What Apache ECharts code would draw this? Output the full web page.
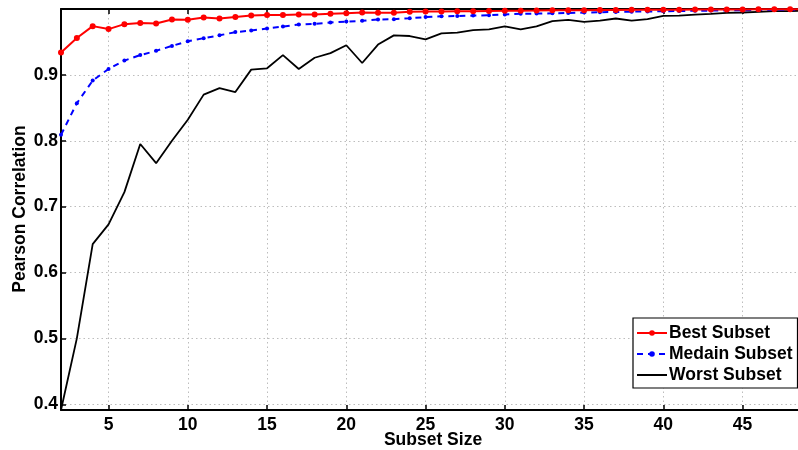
<!DOCTYPE html>
<html>
<head>
<meta charset="utf-8">
<script src="https://cdn.jsdelivr.net/npm/echarts@6/dist/echarts.min.js"></script>
<style>html,body{margin:0;padding:0;background:#fff}#c{width:798px;height:450px}</style>
</head>
<body>
<div id="c"></div>
<script>
var subsetSizes = [2,3,4,5,6,7,8,9,10,11,12,13,14,15,16,17,18,19,20,21,22,23,24,25,26,27,28,29,30,31,32,33,34,35,36,37,38,39,40,41,42,43,44,45,46,47,48,49];
var bestSubset = [0.934,0.956,0.974,0.9695,0.977,0.9786,0.978,0.984,0.9836,0.987,0.9856,0.988,0.990,0.991,0.991,0.9917,0.9917,0.9927,0.9937,0.9947,0.9942,0.9942,0.9957,0.9962,0.9962,0.9965,0.9967,0.997,0.9972,0.9975,0.9977,0.998,0.998,0.9982,0.9984,0.9985,0.9987,0.9988,0.999,0.999,0.9991,0.9992,0.9993,0.9994,0.9995,0.9996,0.9997,0.9998];
var medianSubset = [0.809,0.857,0.8913,0.909,0.9217,0.930,0.9365,0.944,0.951,0.9557,0.960,0.9649,0.9673,0.9704,0.9734,0.9764,0.9775,0.9795,0.981,0.982,0.984,0.9846,0.986,0.9877,0.989,0.9893,0.990,0.9905,0.9917,0.9927,0.993,0.9935,0.994,0.9945,0.995,0.9955,0.996,0.9963,0.9966,0.997,0.9973,0.9976,0.998,0.9982,0.9985,0.9988,0.999,0.999];
var worstSubset = [0.3913,0.50,0.643,0.673,0.722,0.795,0.766,0.800,0.832,0.870,0.880,0.874,0.908,0.910,0.930,0.909,0.926,0.933,0.945,0.918,0.946,0.960,0.959,0.954,0.963,0.964,0.968,0.969,0.9735,0.969,0.9735,0.9815,0.9836,0.9805,0.9825,0.9856,0.9825,0.9847,0.9897,0.990,0.9915,0.9927,0.994,0.9947,0.9957,0.9967,0.997,0.9975];
var xTicks = [5,10,15,20,25,30,35,40,45];
var yTicks = [0.4,0.5,0.6,0.7,0.8,0.9];
var seriesNames = ['Best Subset','Medain Subset','Worst Subset'];
var xTitle = 'Subset Size';
var yTitle = 'Pearson Correlation';

function pairs(vals){ return subsetSizes.map(function(x,i){ return [x, vals[i]]; }); }

var FONT = '"Liberation Sans", Arial, sans-serif';
var chart = echarts.init(document.getElementById('c'), null, {renderer:'canvas'});
chart.setOption({
  animation: false,
  backgroundColor: '#fff',
  grid: {left: 61, top: 9, right: -8, bottom: 40, containLabel: false, outerBoundsMode: 'none'},
  graphic: [{
    type: 'text', x: 433, y: 440, z: 10,
    style: {text: xTitle, font: 'bold 17.5px ' + FONT, fill: '#000', align: 'center', verticalAlign: 'middle'}
  }, {
    type: 'text', x: 20, y: 209, rotation: Math.PI / 2, z: 10,
    style: {text: yTitle, font: 'bold 17.5px ' + FONT, fill: '#000', align: 'center', verticalAlign: 'middle'}
  }],
  legend: {
    orient: 'vertical', left: 633, top: 318,
    backgroundColor: '#fff', borderColor: '#000', borderWidth: 1.2,
    padding: [6, 5, 4, 3], itemGap: 3, itemWidth: 30, itemHeight: 7,
    textStyle: {fontFamily: FONT, fontWeight: 'bold', fontSize: 17.5, color: '#000', padding: [0,0,0,-3]},
    data: [
      {name: seriesNames[0]},
      {name: seriesNames[1]},
      {name: seriesNames[2], itemStyle: {opacity: 0}}
    ]
  },
  xAxis: [{
    type: 'value', min: 2, max: 49,
    axisLine: {show: true, onZero: false, lineStyle: {color: '#000', width: 2}},
    axisTick: {show: true, inside: true, length: 5, customValues: xTicks, lineStyle: {color: '#000', width: 1.5}},
    axisLabel: {customValues: xTicks, fontFamily: FONT, fontWeight: 'bold', fontSize: 17.5, color: '#000', margin: 6},
    splitLine: {show: true, lineStyle: {color: '#bdbdbd', type: [1.5, 3], width: 1}}
  }, {
    type: 'value', min: 2, max: 49, position: 'top',
    axisLine: {show: true, onZero: false, lineStyle: {color: '#000', width: 2}},
    axisTick: {show: true, inside: true, length: 5, customValues: xTicks, lineStyle: {color: '#000', width: 1.5}},
    axisLabel: {show: false},
    splitLine: {show: false}
  }],
  yAxis: {
    type: 'value', min: 0.3913, max: 1.0,
    axisLine: {show: true, onZero: false, lineStyle: {color: '#000', width: 2}},
    axisTick: {show: true, inside: true, length: 5, customValues: yTicks, lineStyle: {color: '#000', width: 1.5}},
    axisLabel: {customValues: yTicks, fontFamily: FONT, fontWeight: 'bold', fontSize: 17.5, color: '#000', margin: 3,
      formatter: function(v){ return v.toFixed(1); }},
    splitLine: {show: true, lineStyle: {color: '#bdbdbd', type: [1.5, 3], width: 1}}
  },
  series: [{
    name: seriesNames[0], type: 'line', data: pairs(bestSubset),
    symbol: 'circle', symbolSize: 6, color: '#ff0000',
    lineStyle: {color: '#ff0000', width: 2}, itemStyle: {color: '#ff0000'}, z: 4, clip: true
  }, {
    name: seriesNames[1], type: 'line', data: pairs(medianSubset),
    symbol: 'circle', symbolSize: 4, color: '#0000ff',
    lineStyle: {color: '#0000ff', width: 2, type: [6, 5]}, itemStyle: {color: '#0000ff'}, z: 3, clip: true
  }, {
    name: seriesNames[2], type: 'line', data: pairs(worstSubset),
    symbol: 'none', showSymbol: false, color: '#000',
    lineStyle: {color: '#000', width: 1.8}, z: 2, clip: true
  }]
});
</script>
</body>
</html>
